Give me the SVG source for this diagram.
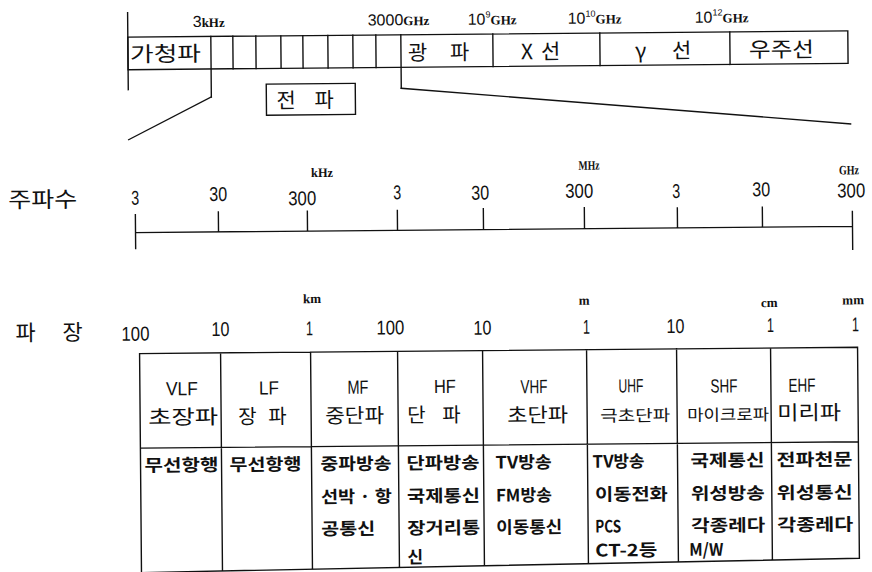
<svg xmlns="http://www.w3.org/2000/svg" width="872" height="572" viewBox="0 0 872 572">
<style>
.ln{stroke:#111;stroke-width:1.4;fill:none;stroke-linecap:square}
.k{font-family:"Noto Sans CJK KR","Noto Sans",sans-serif;fill:#111}
.kb{font-family:"Noto Sans CJK KR","Noto Sans",sans-serif;fill:#111;font-size:17px;font-weight:bold}
.n{font-family:"Liberation Sans Narrow","Liberation Sans",sans-serif;fill:#111}
.ax{font-family:"Liberation Sans Narrow","Liberation Sans",sans-serif;fill:#111;font-size:20px;text-anchor:middle}
.u{font-family:"Liberation Serif",serif;font-weight:bold;fill:#111}
.un{font-family:"Liberation Serif",serif;font-weight:bold;fill:#111;font-size:13px;text-anchor:middle}
.hd{font-family:"Liberation Sans Narrow","Liberation Sans",sans-serif;fill:#111;font-size:19px;text-anchor:middle}
</style>
<rect width="872" height="572" fill="#fff"/>
<g transform="rotate(-0.5 436 286)">
<g id="connectors" class="ln">
<path d="M213 95L130 137"/>
<path d="M403 88L852 127.5"/>
</g>
<g id="spectrum-bar">
<rect class="ln" x="130" y="34.5" width="720" height="32.5"/>
<path class="ln" d="M130 10V87M213 34.5V95M235 34.5V67M258 34.5V67M283 34.5V67M305 34.5V67M330 34.5V67M355 34.5V67M378 34.5V67M403 34.5V88M495 34.5V67M602 34.5V67M732 34.5V67"/>
<text class="k" font-size="21" x="132" y="59" textLength="71" lengthAdjust="spacingAndGlyphs">가청파</text>
<text class="k" font-size="21" y="60"><tspan x="410">광 </tspan><tspan x="452">파</tspan></text>
<text class="k" font-size="21" y="60"><tspan x="523">X </tspan><tspan x="543">선</tspan></text>
<text class="k" font-size="21" y="60"><tspan x="637">γ </tspan><tspan x="674">선</tspan></text>
<text class="k" font-size="21" x="751" y="60" textLength="65" lengthAdjust="spacingAndGlyphs">우주선</text>
</g>
<g id="radio-wave-box">
<rect class="ln" x="268" y="82.7" width="89" height="31"/>
<text class="k" font-size="21" y="106.5"><tspan x="278">전 </tspan><tspan x="316">파</tspan></text>
</g>
<g id="top-scale">
<text x="195" y="25"><tspan class="n" font-size="16">3</tspan><tspan class="u" font-size="13">kHz</tspan></text>
<text x="370" y="25"><tspan class="n" font-size="16">3000</tspan><tspan class="u" font-size="13">GHz</tspan></text>
<text x="470" y="25"><tspan class="n" font-size="16">10</tspan><tspan class="n" font-size="9" dy="-7">9</tspan><tspan class="u" font-size="13" dy="7">GHz</tspan></text>
<text x="570" y="25"><tspan class="n" font-size="16">10</tspan><tspan class="n" font-size="9" dy="-7">10</tspan><tspan class="u" font-size="13" dy="7">GHz</tspan></text>
<text x="697" y="25"><tspan class="n" font-size="16">10</tspan><tspan class="n" font-size="9" dy="-7">12</tspan><tspan class="u" font-size="13" dy="7">GHz</tspan></text>
</g>
<g id="frequency-axis">
<text class="k" font-size="22" x="9" y="204" textLength="69" lengthAdjust="spacingAndGlyphs">주파수</text>
<path class="ln" d="M136 230H853M136 212V246M219 210V230M308 210V230M398 210V230M484 209V230M585 209V230M678 210V230M763 210V230M853 215V253"/>
<text class="ax" x="136" y="202" textLength="8" lengthAdjust="spacingAndGlyphs">3</text>
<text class="ax" x="219" y="199" textLength="18" lengthAdjust="spacingAndGlyphs">30</text>
<text class="ax" x="303" y="204" textLength="28" lengthAdjust="spacingAndGlyphs">300</text>
<text class="ax" x="398" y="199" textLength="8" lengthAdjust="spacingAndGlyphs">3</text>
<text class="ax" x="481" y="200" textLength="18" lengthAdjust="spacingAndGlyphs">30</text>
<text class="ax" x="580" y="199" textLength="28" lengthAdjust="spacingAndGlyphs">300</text>
<text class="ax" x="677" y="200" textLength="8" lengthAdjust="spacingAndGlyphs">3</text>
<text class="ax" x="762" y="199" textLength="18" lengthAdjust="spacingAndGlyphs">30</text>
<text class="ax" x="852" y="201" textLength="28" lengthAdjust="spacingAndGlyphs">300</text>
<text class="un" x="323" y="176" textLength="22" lengthAdjust="spacingAndGlyphs">kHz</text>
<text class="un" x="590" y="171" textLength="21" lengthAdjust="spacingAndGlyphs">MHz</text>
<text class="un" x="850" y="178" textLength="20" lengthAdjust="spacingAndGlyphs">GHz</text>
</g>
<g id="wavelength-axis">
<text class="k" font-size="22" y="337"><tspan x="15">파 </tspan><tspan x="62">장</tspan></text>
<text class="ax" x="135" y="338" textLength="28" lengthAdjust="spacingAndGlyphs">100</text>
<text class="ax" x="220" y="334" textLength="18" lengthAdjust="spacingAndGlyphs">10</text>
<text class="ax" x="309" y="334" textLength="7" lengthAdjust="spacingAndGlyphs">1</text>
<text class="ax" x="390" y="334" textLength="28" lengthAdjust="spacingAndGlyphs">100</text>
<text class="ax" x="482" y="335" textLength="18" lengthAdjust="spacingAndGlyphs">10</text>
<text class="ax" x="586" y="335" textLength="7" lengthAdjust="spacingAndGlyphs">1</text>
<text class="ax" x="675" y="335" textLength="18" lengthAdjust="spacingAndGlyphs">10</text>
<text class="ax" x="770" y="335" textLength="7" lengthAdjust="spacingAndGlyphs">1</text>
<text class="ax" x="855" y="335" textLength="7" lengthAdjust="spacingAndGlyphs">1</text>
<text class="un" x="312" y="302">km</text>
<text class="un" x="584" y="306">m</text>
<text class="un" x="769" y="310">cm</text>
<text class="un" x="853" y="308">mm</text>
</g>
<g id="band-table">
<path class="ln" d="M139 351H857M139 445.5H857M139 570L857 562M139 351V570M220 351V569.1M310 351V568.1M397 351V567.2M482 351V566.2M586 351V565.1M676 351V564.1M770 351V563.1M857 351V562"/>
</g>
<g id="band-VLF">
<text class="hd" x="181" y="393" textLength="32" lengthAdjust="spacingAndGlyphs">VLF</text>
<text class="k" font-size="20" x="147" y="422" textLength="70" lengthAdjust="spacingAndGlyphs">초장파</text>
<text class="kb" x="143" y="469" textLength="74" lengthAdjust="spacingAndGlyphs">무선항행</text>
</g>
<g id="band-LF">
<text class="hd" x="268" y="393" textLength="20" lengthAdjust="spacingAndGlyphs">LF</text>
<text class="k" font-size="20" y="422"><tspan x="237">장 </tspan><tspan x="267">파</tspan></text>
<text class="kb" x="228" y="469" textLength="72" lengthAdjust="spacingAndGlyphs">무선항행</text>
</g>
<g id="band-MF">
<text class="hd" x="357" y="393" textLength="21" lengthAdjust="spacingAndGlyphs">MF</text>
<text class="k" font-size="20" x="324" y="422" textLength="59" lengthAdjust="spacingAndGlyphs">중단파</text>
<text class="kb" x="319" y="469" textLength="71" lengthAdjust="spacingAndGlyphs">중파방송</text>
<text class="kb" x="319" y="502" textLength="71" lengthAdjust="spacingAndGlyphs">선박 · 항</text>
<text class="kb" x="319" y="534" textLength="54" lengthAdjust="spacingAndGlyphs">공통신</text>
</g>
<g id="band-HF">
<text class="hd" x="444" y="393" textLength="22" lengthAdjust="spacingAndGlyphs">HF</text>
<text class="k" font-size="20" y="422"><tspan x="406">단 </tspan><tspan x="441">파</tspan></text>
<text class="kb" x="405" y="469" textLength="73" lengthAdjust="spacingAndGlyphs">단파방송</text>
<text class="kb" x="405" y="502" textLength="73" lengthAdjust="spacingAndGlyphs">국제통신</text>
<text class="kb" x="405" y="534" textLength="73" lengthAdjust="spacingAndGlyphs">장거리통</text>
<text class="kb" x="405" y="563">신</text>
</g>
<g id="band-VHF">
<text class="hd" x="533" y="394" textLength="27" lengthAdjust="spacingAndGlyphs">VHF</text>
<text class="k" font-size="20" x="506" y="423" textLength="61" lengthAdjust="spacingAndGlyphs">초단파</text>
<text class="kb" x="494" y="469" textLength="56" lengthAdjust="spacingAndGlyphs">TV방송</text>
<text class="kb" x="494" y="502" textLength="56" lengthAdjust="spacingAndGlyphs">FM방송</text>
<text class="kb" x="494" y="534" textLength="66" lengthAdjust="spacingAndGlyphs">이동통신</text>
</g>
<g id="band-UHF">
<text class="hd" x="630" y="394" textLength="25" lengthAdjust="spacingAndGlyphs">UHF</text>
<text class="k" font-size="16" x="599" y="423" textLength="70" lengthAdjust="spacingAndGlyphs">극초단파</text>
<text class="kb" x="591" y="469" textLength="52" lengthAdjust="spacingAndGlyphs">TV방송</text>
<text class="kb" x="593" y="502" textLength="73" lengthAdjust="spacingAndGlyphs">이동전화</text>
<text class="kb" x="593" y="534" textLength="26" lengthAdjust="spacingAndGlyphs">PCS</text>
<text class="kb" x="593" y="558" textLength="62" lengthAdjust="spacingAndGlyphs">CT-2등</text>
</g>
<g id="band-SHF">
<text class="hd" x="723" y="395" textLength="27" lengthAdjust="spacingAndGlyphs">SHF</text>
<text class="k" font-size="16" x="686" y="423" textLength="82" lengthAdjust="spacingAndGlyphs">마이크로파</text>
<text class="kb" x="689" y="469" textLength="74" lengthAdjust="spacingAndGlyphs">국제통신</text>
<text class="kb" x="689" y="502" textLength="74" lengthAdjust="spacingAndGlyphs">위성방송</text>
<text class="kb" x="689" y="534" textLength="74" lengthAdjust="spacingAndGlyphs">각종레다</text>
<text class="kb" x="687" y="558" textLength="34" lengthAdjust="spacingAndGlyphs">M/W</text>
</g>
<g id="band-EHF">
<text class="hd" x="801" y="395" textLength="27" lengthAdjust="spacingAndGlyphs">EHF</text>
<text class="k" font-size="20" x="776" y="423" textLength="64" lengthAdjust="spacingAndGlyphs">미리파</text>
<text class="kb" x="775" y="469" textLength="76" lengthAdjust="spacingAndGlyphs">전파천문</text>
<text class="kb" x="775" y="502" textLength="76" lengthAdjust="spacingAndGlyphs">위성통신</text>
<text class="kb" x="775" y="534" textLength="76" lengthAdjust="spacingAndGlyphs">각종레다</text>
</g>
</g>
</svg>
